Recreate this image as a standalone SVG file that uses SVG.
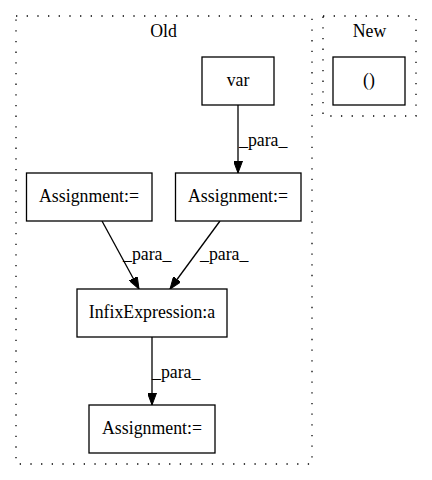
<svg xmlns="http://www.w3.org/2000/svg" width="432" height="480" viewBox="0 0 432 480" font-family="'Liberation Serif', 'Times New Roman', serif" font-size="17.8">
<defs>
<marker id="ah" markerWidth="12" markerHeight="9" refX="12" refY="4.5" orient="auto" markerUnits="userSpaceOnUse">
<polygon points="0,0 12,4.5 0,9" fill="#000" stroke="#000"/>
</marker>
</defs>
<style>
text{font-family:"Liberation Serif","Times New Roman",serif;font-size:17.8px;fill:#000}
.n{fill:#fff;stroke:#000;stroke-width:1.3}
.c{fill:none;stroke:#000;stroke-width:1.3;stroke-dasharray:1.3,9.37}
.e{fill:none;stroke:#000;stroke-width:1.3;marker-end:url(#ah)}
</style>
<rect width="432" height="480" fill="#fff"/>
<g id="cluster_old">
<rect class="c" x="16" y="16" width="296" height="448"/>
<text x="163.5" y="36.5" text-anchor="middle">Old</text>
</g>
<g id="cluster_new">
<rect class="c" x="323" y="16" width="93" height="100"/>
<text x="369.5" y="36.5" text-anchor="middle">New</text>
</g>
<g id="edges">
<path class="e" d="M238,105 L238,173"/>
<text x="239" y="145.5">_para_</text>
<path class="e" d="M102,221 L139,289"/>
<text x="123" y="260">_para_</text>
<path class="e" d="M220,221 L170,289"/>
<text x="200" y="260">_para_</text>
<path class="e" d="M152,337 L152,405"/>
<text x="152" y="378">_para_</text>
</g>
<g id="var">
<rect class="n" x="202" y="57" width="72" height="48"/>
<text x="238" y="85.5" text-anchor="middle">var</text>
</g>
<g id="paren">
<rect class="n" x="333" y="57" width="72" height="48"/>
<text x="369" y="85.5" text-anchor="middle">()</text>
</g>
<g id="assign1">
<rect class="n" x="26.5" y="173" width="125.5" height="48"/>
<text x="89" y="201.5" text-anchor="middle">Assignment:=</text>
</g>
<g id="assign2">
<rect class="n" x="175.5" y="173" width="125.5" height="48"/>
<text x="238" y="201.5" text-anchor="middle">Assignment:=</text>
</g>
<g id="infix">
<rect class="n" x="77" y="289" width="150" height="48"/>
<text x="152" y="317.5" text-anchor="middle">InfixExpression:a</text>
</g>
<g id="assign3">
<rect class="n" x="89" y="405" width="126" height="48"/>
<text x="152" y="433.5" text-anchor="middle">Assignment:=</text>
</g>
</svg>
